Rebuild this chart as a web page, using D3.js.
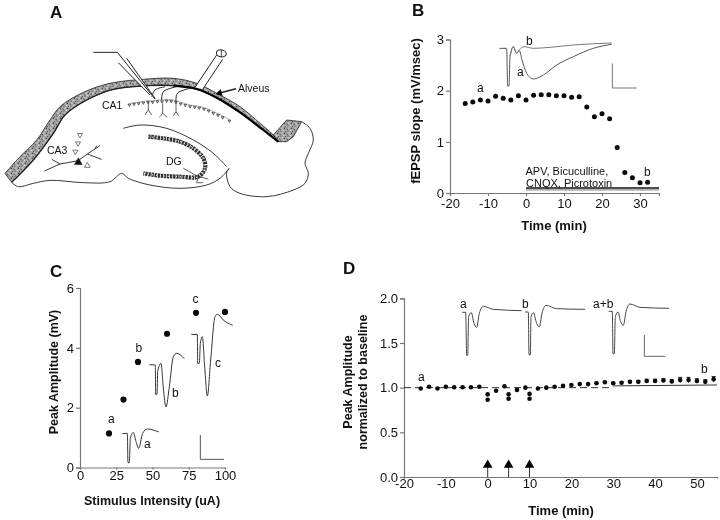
<!DOCTYPE html>
<html><head><meta charset="utf-8">
<script src="https://cdn.jsdelivr.net/npm/d3@7"></script>
<style>
html,body{margin:0;background:#fff}
svg{display:block;font-family:"Liberation Sans",Arial,sans-serif;filter:blur(0.3px)}
text{fill:#111}
</style></head><body><svg id="c" width="720" height="520"></svg>
<script>
// ---- panel B data
const bTime=[-16,-14,-12,-10,-8,-6,-4,-2,0,2,4,6,8,10,12,14,16,18,20,22,24,26,28,30,32];
const bSlope=[1.75,1.78,1.82,1.80,1.89,1.85,1.82,1.90,1.82,1.91,1.92,1.92,1.90,1.90,1.87,1.88,1.68,1.49,1.55,1.45,0.89,0.40,0.30,0.20,0.21];
const bXTicks=[-20,-10,0,10,20,30];
const bYTicks=[0,1,2,3];
// ---- panel C data
const cStim=[20,30,40,60,80,100];
const cPeak=[1.14,2.27,3.53,4.47,5.17,5.20];
const cXTicks=[0,25,50,75,100];
const cYTicks=[0,2,4,6];
// ---- panel D data
const dTime=[-16,-14,-12,-10,-8,-6,-4,-2,0,0,2,4,5,5,7,9,10,10,12,14,16,18,20,22,24,26,28,30,32,34,36,38,40,42,44,46,48,50,52,54];
const dPeak=[0.99,1.01,0.99,1.01,1.005,1.005,1.005,1.01,0.925,0.865,0.965,1.015,0.925,0.875,0.975,1.0,0.93,0.875,0.99,1.0,1.01,1.02,1.03,1.04,1.04,1.05,1.06,1.05,1.055,1.065,1.065,1.075,1.075,1.08,1.07,1.085,1.085,1.075,1.065,1.095];
const dErr=[0,0,0,0,0,0,0,0,0,0,0,0,0,0,0,0,0,0,0,0,0,0,0,0,0,0.01,0.01,0.01,0.01,0.012,0.012,0.02,0.02,0.02,0.02,0.03,0.03,0.025,0.025,0.03];
const dXTicks=[-20,-10,0,10,20,30,40,50];
const dYTicks=[0,0.5,1,1.5,2];
const dArrows=[0,5,10];

// ---- illustration outlines (3x crop coordinates of the drawing)
const bandTop=[[15,520],[60,470],[110,420],[150,360],[180,320],[250,277],[330,250],[430,238],[520,235],[590,250],[650,280],[720,320],[780,370],[820,405]];
const bandBot=[[35,547],[100,480],[160,400],[195,345],[260,300],[340,268],[440,257],[520,257],[590,267],[650,293],[720,337],[790,390],[835,425]];
const hookBand=[[820,405],[860,360],[905,365],[880,410],[860,425],[835,425]];
const outerRight=[[905,365],[930,385],[940,420],[925,460],[915,490],[925,520],[915,550],[880,570],[800,590],[720,580],[690,560],[680,515],[688,505]];
const outerBottom=[[35,547],[55,560],[100,550],[150,541],[250,548],[330,545],[365,520],[385,535],[450,555],[540,565],[620,555],[660,535],[688,505]];
const dgTop=[[370,385],[420,375],[500,385],[580,420],[640,460],[680,500]];
const dgCells=[[445,410],[490,415],[540,425],[580,445],[610,475],[615,505],[595,530],[540,530],[480,527],[430,520]];
const dgDend=[[[550,505],[595,530],[590,548]],[[595,530],[625,537]],[[590,548],[610,548]]];
const ca1Cells=[[388,310],[402,308],[416,306],[430,304],[444,302],[458,302],[472,300],[486,300],[500,298],[514,299],[528,302],[542,307],[556,311],[570,315],[584,317],[598,319],[612,323],[626,328],[640,335],[654,341],[668,348],[688,358]];
const ca1Dend=[[[445,305],[445,330],[435,345]],[[445,330],[455,345]],[[488,310],[488,340],[478,352]],[[488,340],[502,352]],[[528,305],[528,335],[520,348]],[[528,335],[536,348]]];
const ca1Axons=[[[455,290],[465,270],[495,260]],[[485,300],[490,275],[530,260]],[[528,305],[532,280],[570,265]]];
const ca3Down=[[240,405],[234,430],[226,455]];
const ca3Up=[[262,497]];
const ca3Soma=[[235,487]];
const ca3Tree=[[[133,513],[180,492],[235,482],[262,462],[300,437]],[[155,478],[180,492]],[[262,462],[305,478]],[[285,447],[290,437]]];
const electrodeA=[[280,157],[352,157],[465,297]];
const electrodeB=[[380,175],[465,295]];
const electrodeC=[[355,188],[450,285]];
const stimA=[[585,262],[650,165]];
const stimB=[[608,268],[668,178]];
const alveusArrow=[[708,266],[662,278]];

// ---- electrophysiology traces (crop coordinates of each panel)
const bTraceA=[[298,145],[320,145],[323,258],[327,258],[330,170],[340,140],[350,160],[358,152],[366,180],[380,220],[400,237],[430,225],[470,195],[520,170],[580,145],[635,133]];
const bTraceB=[[330,170],[340,140],[350,160],[358,150],[372,140],[400,145],[450,142],[520,135],[635,129]];
const cTraceA=[[367,521],[382,520],[384,608],[388,608],[391,535],[400,517],[408,545],[416,565],[428,520],[442,507],[476,516]];
const cTraceB=[[448,314],[466,315],[467,403],[471,403],[473,335],[483,310],[490,385],[498,441],[508,380],[520,290],[530,280],[553,296]];
const cTraceC=[[574,223],[592,224],[593,310],[598,310],[601,250],[607,230],[614,320],[622,408],[632,300],[645,170],[652,163],[672,182],[698,196]];
const dTraceA=[[397,157],[407,157],[410,286],[413,286],[416,170],[424,158],[432,190],[440,202],[448,160],[460,139],[490,148],[575,152]];
const dTraceB=[[585,156],[595,156],[597,284],[601,284],[603,170],[610,158],[620,190],[628,201],[636,160],[648,136],[680,146],[765,148]];
const dTraceC=[[836,154],[847,154],[849,281],[853,281],[856,170],[864,156],[872,185],[880,196],[888,155],[900,132],[930,142],[1017,145]];

const svg=d3.select('#c');
const line=d3.line().curve(d3.curveLinear);
const smooth=d3.line().curve(d3.curveCatmullRom.alpha(0.5));
const mono=d3.line().curve(d3.curveMonotoneX);
function crop(ox,oy){return p=>[ox+p[0]/3,oy+p[1]/3];}
function draw(pts,map,o={}){
  const g=o.sharp?line:(o.mono?mono:smooth);
  return svg.append('path').attr('d',g(pts.map(map))).attr('fill','none')
   .attr('stroke',o.c||'#222').attr('stroke-width',o.w||1);
}
function label(x,y,t,size,o={}){
  const s=svg.append('text').attr('x',x).attr('y',y).attr('font-size',size).text(t)
   .attr('font-weight',o.b?'bold':'normal').attr('text-anchor',o.a||'start');
  if(o.r!==undefined)s.attr('transform',`rotate(${o.r},${x},${y})`);
  return s;
}
function axes(x,y,xT,yT,fy,xTick,xPad,col){
  const ax=svg.append('g').attr('transform',`translate(0,${y.range()[0]})`).call(d3.axisBottom(x).tickValues(xT).tickSize(xTick).tickPadding(xPad).tickFormat(d=>String(d)));
  const ay=svg.append('g').attr('transform',`translate(${x.range()[0]},0)`).call(d3.axisLeft(y).tickValues(yT).tickSize(4).tickPadding(2).tickFormat(fy));
  [ax,ay].forEach(g=>{g.selectAll('path,line').attr('stroke',col).attr('stroke-width',1.2);
    g.selectAll('text').attr('font-size',13).attr('font-family','"Liberation Sans",Arial,sans-serif').attr('fill','#111');});
}
function dots(xs,ys,x,y,r){
  svg.append('g').selectAll('circle').data(xs).join('circle')
   .attr('cx',d=>x(d)).attr('cy',(d,i)=>y(ys[i])).attr('r',r).attr('fill','#0a0a0a');
}
function tris(pts,map,area,rot,fill){
  svg.append('g').selectAll('path').data(pts).join('path')
   .attr('d',d3.symbol(d3.symbolTriangle,area)())
   .attr('transform',d=>{const p=map(d);return `translate(${p[0]},${p[1]}) rotate(${rot})`;})
   .attr('fill',fill).attr('stroke','#222').attr('stroke-width',.6);
}

// ---- panel A
const A=crop(0,0);
const defs=svg.append('defs');
const pat=defs.append('pattern').attr('id','stip').attr('width',7).attr('height',5).attr('patternUnits','userSpaceOnUse');
pat.append('rect').attr('width',7).attr('height',5).attr('fill','#a8a8a8');
[[1,1,.6,'#333'],[3.4,.6,.5,'#eee'],[5.5,1.6,.6,'#444'],[2,3,.6,'#eee'],[4.3,3.2,.7,'#333'],[6.3,4,.5,'#555'],[.5,4.2,.5,'#444']].forEach(d=>
  pat.append('circle').attr('cx',d[0]).attr('cy',d[1]).attr('r',d[2]).attr('fill',d[3]));
const bandPoly=bandTop.concat(bandBot.slice().reverse());
svg.append('path').attr('d',smooth(bandPoly.map(A))+'Z').attr('fill','url(#stip)').attr('stroke','#222').attr('stroke-width',.8);
svg.append('path').attr('d',line(hookBand.map(A))+'Z').attr('fill','url(#stip)').attr('stroke','#222').attr('stroke-width',.8);
draw(bandBot,A,{w:1.3});
draw(bandBot.slice(7),A,{w:2.2,c:'#000'});
draw(outerRight,A,{w:.9});draw(outerBottom,A,{w:.9});draw(dgTop,A,{w:.9});
svg.append('path').attr('d',smooth(dgCells.map(A))).attr('fill','none').attr('stroke','#333').attr('stroke-width',4.2).attr('stroke-dasharray','2.4 .7');
svg.append('path').attr('d',smooth(dgCells.map(A))).attr('fill','none').attr('stroke','#ddd').attr('stroke-width',1.3).attr('stroke-dasharray','1 3');
dgDend.forEach(d=>draw(d,A,{w:.7,sharp:1}));
draw(ca1Cells,A,{w:.5,c:'#666',sharp:1});
tris(ca1Cells,crop(0,1.5),3.5,180,'#bbb');
ca1Dend.forEach(d=>draw(d,A,{w:.7,sharp:1}));
ca1Axons.forEach(d=>draw(d,A,{w:1}));
tris(ca3Down,A,11,180,'#fff');
tris(ca3Up,A,14,0,'#fff');
ca3Tree.forEach(d=>draw(d,A,{w:.9,sharp:1}));
tris(ca3Soma,A,26,0,'#111');
// electrode interiors hide the band behind them
svg.append('path').attr('d',line(electrodeC.concat(electrodeB.slice().reverse()).map(A))+'Z').attr('fill','#fff');
svg.append('path').attr('d',line(stimA.concat(stimB.slice().reverse()).map(A))+'Z').attr('fill','#fff');
draw(electrodeA,A,{w:1,sharp:1});draw(electrodeB,A,{w:1,sharp:1});draw(electrodeC,A,{w:1,sharp:1});
draw(stimA,A,{w:1,sharp:1});draw(stimB,A,{w:1,sharp:1});
const stimTip=A([664,160]);
svg.append('ellipse').attr('cx',stimTip[0]).attr('cy',stimTip[1]).attr('rx',5).attr('ry',3.5).attr('transform',`rotate(10,${stimTip.join(',')})`).attr('fill','#fff').attr('stroke','#222');
svg.append('line').attr('x1',stimTip[0]).attr('x2',stimTip[0]).attr('y1',stimTip[1]-3.4).attr('y2',stimTip[1]+3.4).attr('stroke','#222').attr('stroke-width',.8);
draw(alveusArrow,A,{w:1.6,sharp:1});
svg.append('path').attr('d',d3.symbol(d3.symbolTriangle,22)()).attr('transform',`translate(${A([659,279]).join(',')}) rotate(-105)`).attr('fill','#000');
label(50,18,'A',17,{b:1});
label(238,92,'Alveus',10.5);label(102,109,'CA1',10.5);label(47,154,'CA3',10.5);label(166,165,'DG',10.5);

// ---- panel B
const bx=d3.scaleLinear().domain([-20,35]).range([450,659]);
const by=d3.scaleLinear().domain([0,3]).range([193,39.5]);
axes(bx,by,bXTicks,bYTicks,d=>String(d),3,3,'#777');
const B=crop(400,0);
draw(bTraceA,B,{c:'#555',mono:1});draw(bTraceB,B,{c:'#777',mono:1});
draw([[637,190],[637,264],[710,264]],B,{c:'#777',sharp:1});
dots(bTime,bSlope,bx,by,2.5);
svg.append('line').attr('x1',bx(0)).attr('x2',bx(35)).attr('y1',by(0.1)).attr('y2',by(0.1)).attr('stroke','#111').attr('stroke-width',1.5);
svg.append('line').attr('x1',bx(0)).attr('x2',bx(35)).attr('y1',by(0.06)).attr('y2',by(0.06)).attr('stroke','#555').attr('stroke-width',.8);
label(412,16,'B',17,{b:1});
label(477,92,'a',12);label(517,76,'a',12);label(526,45,'b',12);label(644,176,'b',12);
label(525.5,175,'APV, Bicuculline,',11);label(526,187,'CNQX, Picrotoxin',11);
label(420,111,'fEPSP slope  (mV/msec)',13,{b:1,r:-90,a:'middle'});
label(554,230,'Time  (min)',13,{b:1,a:'middle'});

// ---- panel C
const cx=d3.scaleLinear().domain([0,100]).range([80,225]);
const cy=d3.scaleLinear().domain([0,6]).range([467.5,288]);
axes(cx,cy,cXTicks,cYTicks,d=>String(d),2,1,'#777');
const C=crop(0,260);
[cTraceA,cTraceB,cTraceC].forEach(t=>draw(t,C,{c:'#333',mono:1}));
draw([[601,525],[601,598],[672,598]],C,{c:'#555',sharp:1});
dots(cStim,cPeak,cx,cy,3.1);
label(50,277,'C',17,{b:1});
label(108,423,'a',12);label(144,448,'a',12);label(135.5,352,'b',12);label(172,397,'b',12);label(192.5,303,'c',12);label(215,367,'c',12);
label(58,372,'Peak Amplitude (mV)',12.5,{b:1,r:-90,a:'middle'});
label(152,505,'Stimulus Intensity (uA)',12.5,{b:1,a:'middle'});

// ---- panel D
const dx=d3.scaleLinear().domain([-20,54.8]).range([404,717]);
const dy=d3.scaleLinear().domain([0,2]).range([477,298.3]);
axes(dx,dy,dXTicks,dYTicks,d3.format('.1f'),1.5,0,'#777');
const D=crop(330,260);
[dTraceA,dTraceB,dTraceC].forEach(t=>draw(t,D,{c:'#444',mono:1}));
draw([[943,225],[943,289],[1006,289]],D,{c:'#666',sharp:1});
svg.append('line').attr('x1',dx(-20)).attr('x2',dx(30)).attr('y1',dy(1)).attr('y2',dy(1)).attr('stroke','#333').attr('stroke-dasharray','7 4');
svg.append('line').attr('x1',dx(30)).attr('x2',dx(54.8)).attr('y1',dy(1.02)).attr('y2',dy(1.03)).attr('stroke','#333');
const errG=svg.append('g').selectAll('g').data(dTime.map((t,i)=>i).filter(i=>dErr[i]>0)).join('g');
errG.append('line').attr('x1',i=>dx(dTime[i])).attr('x2',i=>dx(dTime[i])).attr('y1',i=>dy(dPeak[i]-dErr[i])).attr('y2',i=>dy(dPeak[i]+dErr[i])).attr('stroke','#222');
errG.append('line').attr('x1',i=>dx(dTime[i])-2).attr('x2',i=>dx(dTime[i])+2).attr('y1',i=>dy(dPeak[i]+dErr[i])).attr('y2',i=>dy(dPeak[i]+dErr[i])).attr('stroke','#222');
dots(dTime,dPeak,dx,dy,2.3);
const arrow=svg.append('g').selectAll('g').data(dArrows).join('g').attr('transform',d=>`translate(${dx(d)},0)`);
arrow.append('line').attr('y1',dy(0.0)).attr('y2',dy(0.12)).attr('stroke','#333');
arrow.append('path').attr('d',d3.symbol(d3.symbolTriangle,40)()).attr('transform',`translate(0,${dy(0.135)})`).attr('fill','#000');
label(343,274,'D',17,{b:1});
label(418,381,'a',12);label(701,373,'b',12);
label(460,308,'a',12);label(522,308,'b',12);label(593,308,'a+b',12);
label(352,382,'Peak Amplitude',12.5,{b:1,r:-90,a:'middle'});
label(367,382,'normalized to baseline',12.5,{b:1,r:-90,a:'middle'});
label(561,515,'Time  (min)',13,{b:1,a:'middle'});
</script></body></html>
